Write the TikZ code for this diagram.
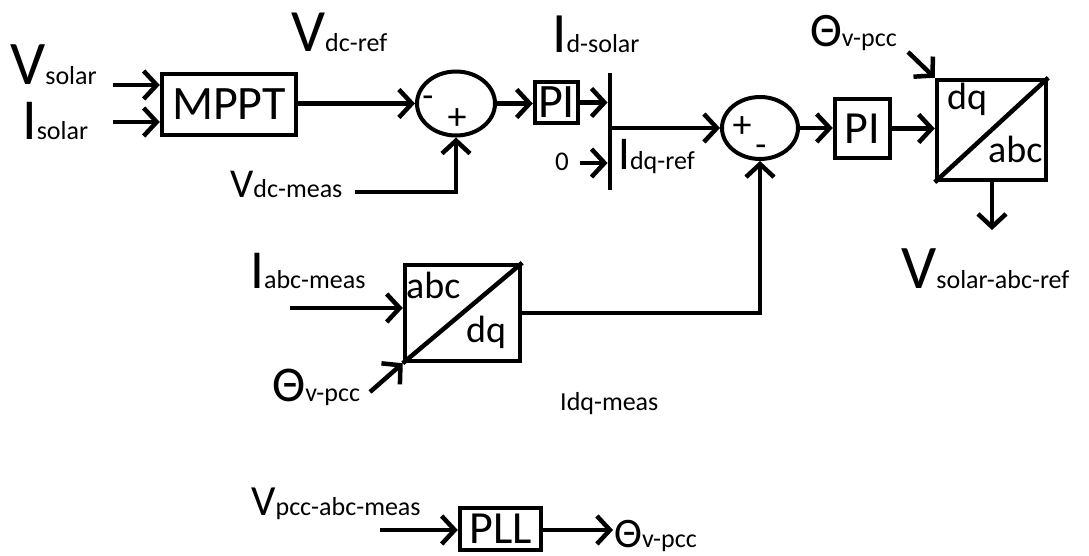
\documentclass[tikz,border=0pt]{standalone}
\usepackage{fontspec}
\setmainfont{Carlito}
\usetikzlibrary{arrows.meta,shapes.geometric,positioning}
\newcommand{\fs}[1]{\fontsize{#1}{#1}\selectfont}
\newcommand{\sig}[3]{{\fs{#1}#2}{\fs{26}#3}}
\tikzset{
  blk/.style={draw,line width=4.5pt,inner sep=0pt,font=\fs{48}},
  conv/.style={draw,line width=4.5pt,inner sep=0pt},
  sumj/.style={draw,ellipse,line width=4pt,inner sep=0pt},
  lbl/.style={anchor=base west,inner sep=0pt},
  sg/.style={-{Straight Barb[length=13pt,width=28pt]},line width=4.5pt},
  ln/.style={line width=4.5pt}
}
\begin{document}
\begin{tikzpicture}[x=1pt,y=-1pt]
\useasboundingbox (0,0) rectangle (1089,556);
% bloques
\node[blk,minimum width=134pt,minimum height=61pt] (mppt) at (229,104.5) {MPPT};
\node[sumj,minimum width=78pt,minimum height=64pt] (s1) at (456,103.5) {};
\node[blk,minimum width=43pt,minimum height=41pt] (pi1) at (556.5,102.5) {PI};
\node[fill,inner sep=0pt,minimum width=4.5pt,minimum height=117pt] (bar) at (610,131.5) {};
\node[sumj,minimum width=76pt,minimum height=62pt] (s2) at (760,128) {};
\node[blk,minimum width=55pt,minimum height=59pt,font=\fs{46}] (pi2) at (862.5,128.5) {PI};
\node[conv,minimum width=109pt,minimum height=100pt] (dqabc) at (991.5,130) {};
\node[conv,minimum width=115pt,minimum height=96pt] (abcdq) at (462.5,313) {};
\node[blk,minimum width=81pt,minimum height=42pt,font=\fs{46}] (pll) at (500.5,529) {PLL};
% signos
\node[font=\fs{36}] at (428,102) {-};
\node[font=\fs{38}] at (457,119) {+};
\node[font=\fs{38}] at (742,127) {+};
\node[font=\fs{36}] at (761,151) {-};
% transformadas
\draw[ln] (dqabc.south west) -- (dqabc.north east);
\node[lbl,font=\fs{38}] at (947,110) {dq};
\node[lbl,font=\fs{38}] at (988,163) {abc};
\draw[ln] (abcdq.south west) -- (abcdq.north east);
\node[lbl,font=\fs{38}] at (406,298) {abc};
\node[lbl,font=\fs{38}] at (466,342) {dq};
% etiquetas
\node[lbl] (vsol) at (10,85) {\sig{62}{V}{solar}};
\node[lbl] (isol) at (22,140) {\sig{58}{I}{solar}};
\node[lbl] (vdcref) at (291,52) {\sig{60}{V}{dc-ref}};
\node[lbl] (vdcmeas) at (230,198) {\sig{41}{V}{dc-meas}};
\node[lbl] (idsol) at (552,53) {\sig{57}{I}{d-solar}};
\node[lbl] (zero) at (555,171) {\fs{27}0};
\node[lbl] (idqref) at (618,170) {\sig{47}{I}{dq-ref}};
\node[lbl] (thtop) at (810,47) {\sig{48}{Θ}{v-pcc}};
\node[lbl] (vout) at (901,288) {\sig{62}{V}{solar-abc-ref}};
\node[lbl] (iabc) at (250,288) {\sig{55}{I}{abc-meas}};
\node[lbl] (thmid) at (272,401) {\sig{50}{Θ}{v-pcc}};
\node[lbl,font=\fs{26}] (idqm) at (560,410) {Idq-meas};
\node[lbl] (vpcc) at (251,515) {\sig{43}{V}{pcc-abc-meas}};
\node[lbl] (thpll) at (614,547) {\sig{42}{Θ}{v-pcc}};
% puntos libres
\coordinate (vsolin) at (113,85);
\coordinate (isolin) at (113,122);
\coordinate (vdcin) at (355,192);
\coordinate (zin) at (580,163);
\coordinate (thtopin) at (908,52);
\coordinate (voutend) at (992,230);
\coordinate (iabcin) at (290,308);
\coordinate (thmidin) at (370,392);
\coordinate (vpccin) at (380,530);
\coordinate (thpllend) at (613,530);
% senales
\draw[sg] (vsolin) -- (vsolin -| mppt.west);
\draw[sg] (isolin) -- (isolin -| mppt.west);
\draw[sg] (mppt.east |- s1.west) -- (s1.west);
\draw[sg] (vdcin) -| (s1.south);
\draw[sg] (s1.east) -- (s1.east -| pi1.west);
\draw[sg] (pi1.east) -- (pi1.east -| bar.west);
\draw[sg] (zin) -- (zin -| bar.west);
\draw[sg] (bar.east |- s2.west) -- (s2.west);
\draw[sg] (s2.east) -- (s2.east -| pi2.west);
\draw[sg] (pi2.east) -- (pi2.east -| dqabc.west);
\draw[sg] (thtopin) -- (dqabc.north west);
\draw[sg] (dqabc.south -| voutend) -- (voutend);
\draw[sg] (iabcin) -- (iabcin -| abcdq.west);
\draw[sg] (thmidin) -- (abcdq.south west);
\draw[sg] (abcdq.east) -| (s2.south);
\draw[sg] (vpccin) -- (vpccin -| pll.west);
\draw[sg] (pll.east |- thpllend) -- (thpllend);
\end{tikzpicture}
\end{document}
